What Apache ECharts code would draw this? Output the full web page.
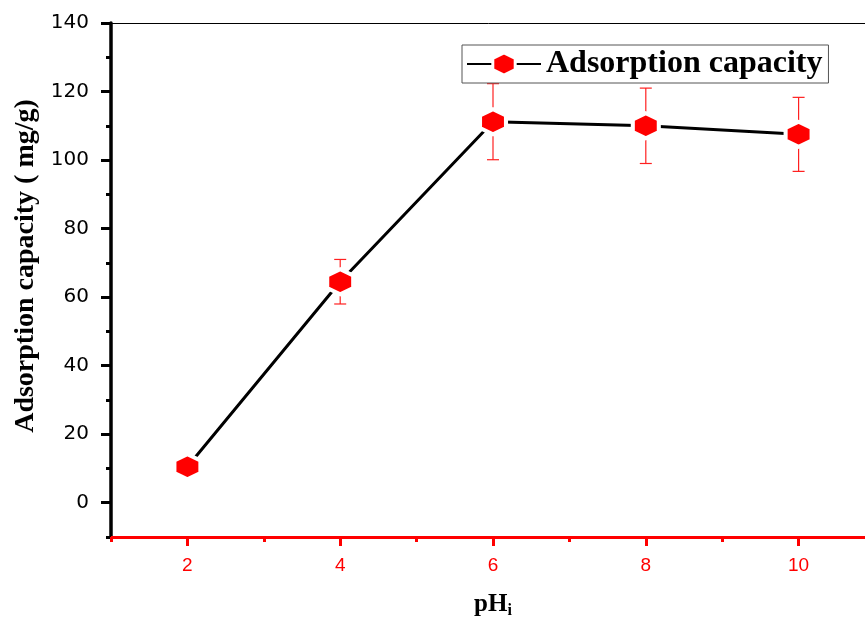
<!DOCTYPE html>
<html>
<head>
<meta charset="utf-8">
<script src="https://cdn.jsdelivr.net/npm/echarts@6/dist/echarts.min.js"></script>
<style>html,body{margin:0;padding:0;background:#fff}#c{width:865px;height:619px}</style>
</head>
<body>
<div id="c"></div>
<script>
// Data
var phValues = [2, 4, 6, 8, 10];
var capacity = [10.5, 64.5, 111.2, 110.0, 107.5];
var errors = [0, 6.5, 11.1, 11.0, 10.8];
var yMajorTicks = [0, 20, 40, 60, 80, 100, 120, 140];
var xMajorTicks = [2, 4, 6, 8, 10];
var seriesName = 'Adsorption capacity';

var hexagon = 'path://M10,0 L19,5 L19,15 L10,20 L1,15 L1,5 Z';
var serif = 'Liberation Serif';
var sans = 'Liberation Sans';

var lineData = phValues.map(function (x, i) { return [x, capacity[i]]; });
var errData = phValues.map(function (x, i) { return [x, capacity[i] - errors[i], capacity[i] + errors[i]]; });

var chart = echarts.init(document.getElementById('c'));
var xBase = { type: 'value', min: 1, max: 11, interval: 1, gridIndex: 0 };
var yBase = { type: 'value', min: -10, max: 140, interval: 10, gridIndex: 0 };

chart.setOption({
  animation: false,
  grid: { left: 111, top: 23, right: -10, bottom: 82, outerBoundsMode: 'none', containLabel: false },
  legend: {
    left: 462, top: 45,
    data: [seriesName],
    itemWidth: 74, itemHeight: 28, itemGap: 6,
    padding: [3, 6, 3, 4],
    borderColor: '#555', borderWidth: 1,
    itemStyle: { borderWidth: 3 },
    textStyle: { fontFamily: serif, fontWeight: 'bold', fontSize: 32, color: '#000', lineHeight: 32 }
  },
  xAxis: [
    Object.assign({}, xBase, {
      position: 'bottom',
      name: '{a|pH}{b|i}', nameLocation: 'middle', nameGap: 54,
      nameTextStyle: { rich: {
        a: { fontFamily: serif, fontWeight: 'bold', fontSize: 25, color: '#000' },
        b: { fontFamily: serif, fontWeight: 'bold', fontSize: 16, color: '#000', padding: [12, 0, 0, 0] }
      } },
      axisLine: { onZero: false, lineStyle: { color: '#ff0000', width: 3 } },
      axisTick: { length: 5, lineStyle: { color: '#ff0000', width: 3 } },
      axisLabel: { color: '#ff0000', fontFamily: sans, fontSize: 19, margin: 19,
        formatter: function (v) { return v % 2 === 0 ? String(v) : ''; } },
      splitLine: { show: false }
    }),
    Object.assign({}, xBase, {
      position: 'bottom',
      axisLine: { show: false, onZero: false },
      axisTick: { show: true, length: 9, customValues: xMajorTicks, lineStyle: { color: '#ff0000', width: 3 } },
      axisLabel: { show: false },
      splitLine: { show: false }
    }),
    Object.assign({}, xBase, {
      position: 'top',
      axisLine: { show: true, onZero: false, lineStyle: { color: '#000', width: 1 } },
      axisTick: { show: false },
      axisLabel: { show: false },
      splitLine: { show: false }
    })
  ],
  yAxis: [
    Object.assign({}, yBase, {
      position: 'left',
      name: 'Adsorption capacity ( mg/g)', nameLocation: 'middle', nameGap: 71, nameRotate: 90,
      nameTextStyle: { fontFamily: serif, fontWeight: 'bold', fontSize: 28, color: '#000', padding: [0, 0, 0, 28] },
      axisLine: { onZero: false, lineStyle: { color: '#000', width: 3.5 } },
      axisTick: { length: 5, lineStyle: { color: '#000', width: 3 } },
      axisLabel: { color: '#000', fontFamily: 'DejaVu Sans', fontSize: 20, margin: 22,
        formatter: function (v) { return (v % 20 === 0 && v >= 0) ? String(v) : ''; } },
      splitLine: { show: false }
    }),
    Object.assign({}, yBase, {
      position: 'left',
      axisLine: { show: false, onZero: false },
      axisTick: { show: true, length: 10, customValues: yMajorTicks, lineStyle: { color: '#000', width: 3 } },
      axisLabel: { show: false },
      splitLine: { show: false }
    })
  ],
  series: [
    {
      type: 'custom',
      name: 'err',
      xAxisIndex: 0, yAxisIndex: 0,
      z: 1,
      data: errData,
      renderItem: function (params, api) {
        var x = api.value(0), lo = api.value(1), hi = api.value(2);
        if (hi - lo <= 0) return null;
        var p1 = api.coord([x, hi]), p2 = api.coord([x, lo]);
        var hw = 6;
        var st = { stroke: '#ff2020', lineWidth: 1.2 };
        return { type: 'group', children: [
          { type: 'line', shape: { x1: p1[0], y1: p1[1], x2: p2[0], y2: p2[1] }, style: st },
          { type: 'line', shape: { x1: p1[0] - hw, y1: p1[1], x2: p1[0] + hw, y2: p1[1] }, style: st },
          { type: 'line', shape: { x1: p2[0] - hw, y1: p2[1], x2: p2[0] + hw, y2: p2[1] }, style: st }
        ] };
      }
    },
    {
      type: 'line',
      name: seriesName,
      xAxisIndex: 0, yAxisIndex: 0,
      z: 3,
      data: lineData,
      symbol: hexagon,
      symbolSize: [26, 25],
      lineStyle: { color: '#000', width: 3 },
      itemStyle: { color: '#ff0000', borderColor: '#fff', borderWidth: 4 }
    }
  ]
});
</script>
</body>
</html>
